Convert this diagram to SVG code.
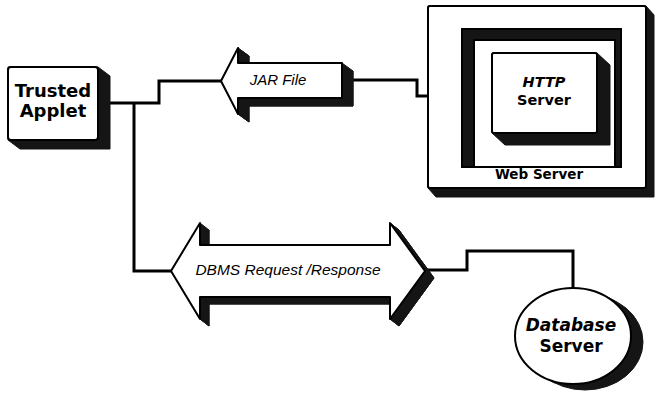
<svg xmlns="http://www.w3.org/2000/svg" width="655" height="393" viewBox="0 0 655 393">
<style>
.face{fill:#fff;stroke:#000;stroke-width:2;stroke-linejoin:round}
.shadow{fill:#151515;stroke:#151515;stroke-width:1;stroke-linejoin:round}
.conn{fill:none;stroke:#000;stroke-width:3;stroke-linejoin:miter}
.bold{font-family:"DejaVu Sans",sans-serif;font-weight:bold;fill:#000;text-anchor:middle}
.lbl{font-family:"Liberation Sans",Arial,sans-serif;font-style:italic;fill:#000;text-anchor:middle}
</style>
<rect width="655" height="393" fill="#fff"/>

<g id="connectors">
<polyline class="conn" points="108,103 159,103 159,81 222,81"/>
<polyline class="conn" points="134,103 134,271 172,271"/>
<polyline class="conn" points="352,80 417,80 417,96 493,96"/>
<polyline class="conn" points="424,270 467,270 467,251 573,251 573,289"/>
</g>

<g id="trusted-applet">
<polygon class="shadow" points="8,67 98,67 110,76 110,149 20,149 8,140"/>
<rect class="face" x="8" y="67" width="90" height="73" rx="3"/>
<text class="bold" x="53" y="97" font-size="18">Trusted</text>
<text class="bold" x="53" y="117" font-size="18">Applet</text>
</g>

<g id="jar-file">
<g class="shadow">
<polygon points="232,89 249,56 249,71 353,71 353,106 249,106 249,122"/>
<polygon points="221,81 238,48 249,56 232,89"/>
<polygon points="238,48 238,63 249,71 249,56"/>
<polygon points="342,63 342,98 353,106 353,71"/>
<polygon points="342,98 238,98 249,106 353,106"/>
<polygon points="238,98 238,114 249,122 249,106"/>
<polygon points="238,114 221,81 232,89 249,122"/>
</g>
<polygon class="face" points="221,81 238,48 238,63 342,63 342,98 238,98 238,114"/>
<text class="lbl" x="278" y="85" font-size="15">JAR File</text>
</g>

<g id="web-server">
<polygon class="shadow" points="428,6 646,6 654,15 654,197 436,197 428,188"/>
<rect class="face" x="428" y="6" width="218" height="182" rx="2"/>
<rect x="462" y="29" width="159" height="138" fill="#151515" stroke="#000" stroke-width="2"/>
<rect x="474" y="40" width="141" height="127" fill="#fff" stroke="#000" stroke-width="2"/>
<text class="bold" x="539" y="179" font-size="13.5">Web Server</text>
</g>

<g id="http-server">
<polygon class="shadow" points="492,53 597,53 610,65 610,145 505,145 492,133"/>
<rect class="face" x="492" y="53" width="105" height="80" rx="2"/>
<text class="bold" x="544" y="87" font-size="14.5" font-style="italic">HTTP</text>
<text class="bold" x="544" y="105" font-size="14.5">Server</text>
</g>

<g id="dbms-request-response">
<g class="shadow">
<polygon points="180,278 209,230 209,252 399,252 399,230 434,278 399,326 399,304 209,304 209,326"/>
<polygon points="200,223 200,245 209,252 209,230"/>
<polygon points="390,223 425,271 434,278 399,230"/>
<polygon points="425,271 390,319 399,326 434,278"/>
<polygon points="390,319 390,297 399,304 399,326"/>
<polygon points="390,297 200,297 209,304 399,304"/>
<polygon points="200,297 200,319 209,326 209,304"/>
<polygon points="200,319 171,271 180,278 209,326"/>
<polygon points="390,245 390,223 399,230 399,252"/>
</g>
<polygon class="face" points="171,271 200,223 200,245 390,245 390,223 425,271 390,319 390,297 200,297 200,319"/>
<text class="lbl" x="288" y="275" font-size="15.5">DBMS Request /Response</text>
</g>

<g id="database-server">
<g class="shadow">
<ellipse cx="585" cy="342" rx="58" ry="48"/>
<polygon points="603,294.9 615,300.9 555,383.1 543,377.1"/>
</g>
<ellipse class="face" cx="573" cy="336" rx="58" ry="48"/>
<text class="bold" x="571" y="331" font-size="17" font-style="italic">Database</text>
<text class="bold" x="571" y="352" font-size="17">Server</text>
</g>
</svg>
